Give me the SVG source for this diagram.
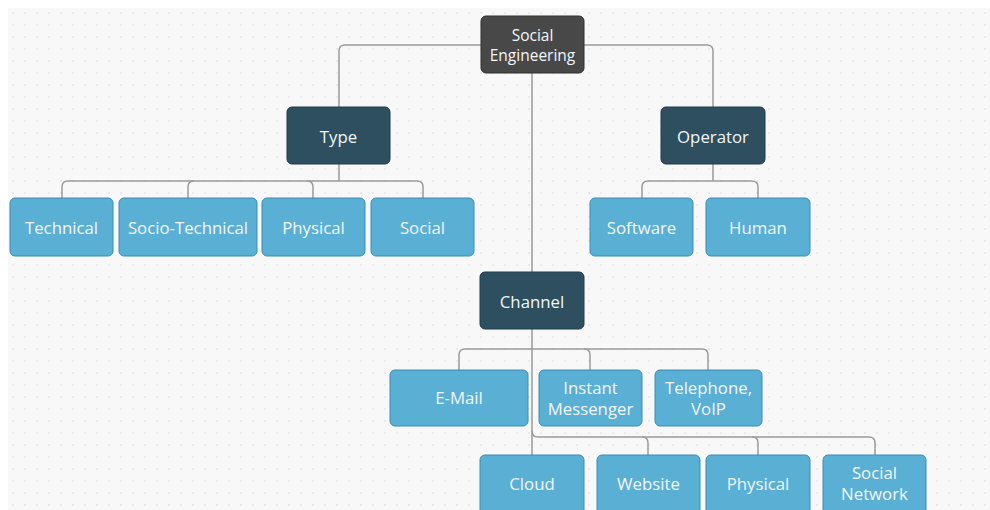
<svg xmlns="http://www.w3.org/2000/svg" width="990" height="510" viewBox="0 0 990 510">
  <defs>
    <pattern id="dots" x="8" y="8" width="12" height="12" patternUnits="userSpaceOnUse">
      <rect x="4" y="4" width="2" height="2" fill="#e9e9ec"/>
    </pattern>
    <style>
      .root { fill: #484848; stroke: #2f2f2f; stroke-width: 1; }
      .cat { fill: #2d4f60; stroke: #1f3a48; stroke-width: 1; }
      .leaf { fill: #5aafd4; stroke: #3b8db3; stroke-width: 1; }
      .lbl { font-family: "Open Sans", "Noto Sans", "DejaVu Sans", sans-serif; font-size: 16.8px; fill: #f2f7fa; text-anchor: middle; }
      .small { font-size: 15.5px; }
      .conn path { fill: none; stroke: #9a9a9a; stroke-width: 1.5; }
    </style>
  </defs>
  <rect x="0" y="0" width="990" height="510" fill="#ffffff"/>
  <rect x="8" y="8" width="982" height="502" fill="#f8f8f9"/>
  <rect x="8" y="8" width="982" height="502" fill="url(#dots)"/>

  <g id="connectors" class="conn">
    <path d="M339 107 V51 Q339 45 345 45 H707 Q713 45 713 51 V107"/>
    <path d="M532 73 V272"/>
    <path d="M532 329 V455"/>
    <path d="M339 164 V181"/>
    <path d="M62 198 V187 Q62 181 68 181 H417 Q423 181 423 187 V198"/>
    <path d="M188 198 V187 Q188 181 194 181"/>
    <path d="M313 198 V187 Q313 181 307 181"/>
    <path d="M713 164 V181"/>
    <path d="M642 198 V187 Q642 181 648 181 H752 Q758 181 758 187 V198"/>
    <path d="M459 370 V355 Q459 349 465 349 H702 Q708 349 708 355 V370"/>
    <path d="M590 370 V355 Q590 349 584 349"/>
    <path d="M532 431 Q532 437 538 437 H869 Q875 437 875 443 V455"/>
    <path d="M648 455 V443 Q648 437 642 437"/>
    <path d="M758 455 V443 Q758 437 752 437"/>
  </g>

  <g id="social-engineering">
    <rect class="root" x="481" y="16" width="103" height="57" rx="5"/>
    <text class="lbl small" x="532.5" y="41">Social</text>
    <text class="lbl small" x="532.5" y="61">Engineering</text>
  </g>
  <g id="type">
    <rect class="cat" x="287" y="107" width="103" height="57" rx="5"/>
    <text class="lbl" x="338.5" y="143">Type</text>
  </g>
  <g id="operator">
    <rect class="cat" x="661" y="107" width="104" height="57" rx="5"/>
    <text class="lbl" x="713" y="143">Operator</text>
  </g>
  <g id="channel">
    <rect class="cat" x="480" y="272" width="104" height="57" rx="5"/>
    <text class="lbl" x="532" y="308">Channel</text>
  </g>

  <g id="technical">
    <rect class="leaf" x="10" y="198" width="103" height="58" rx="5"/>
    <text class="lbl" x="61.5" y="234">Technical</text>
  </g>
  <g id="socio-technical">
    <rect class="leaf" x="119" y="198" width="138" height="58" rx="5"/>
    <text class="lbl" x="188" y="234">Socio-Technical</text>
  </g>
  <g id="physical-type">
    <rect class="leaf" x="262" y="198" width="103" height="58" rx="5"/>
    <text class="lbl" x="313.5" y="234">Physical</text>
  </g>
  <g id="social-type">
    <rect class="leaf" x="371" y="198" width="103" height="58" rx="5"/>
    <text class="lbl" x="422.5" y="234">Social</text>
  </g>
  <g id="software">
    <rect class="leaf" x="590" y="198" width="103" height="58" rx="5"/>
    <text class="lbl" x="641.5" y="234">Software</text>
  </g>
  <g id="human">
    <rect class="leaf" x="706" y="198" width="104" height="58" rx="5"/>
    <text class="lbl" x="758" y="234">Human</text>
  </g>

  <g id="email">
    <rect class="leaf" x="390" y="370" width="138" height="56" rx="5"/>
    <text class="lbl" x="459" y="404">E-Mail</text>
  </g>
  <g id="instant-messenger">
    <rect class="leaf" x="539" y="370" width="103" height="56" rx="5"/>
    <text class="lbl" x="590.5" y="394">Instant</text>
    <text class="lbl" x="590.5" y="415">Messenger</text>
  </g>
  <g id="telephone">
    <rect class="leaf" x="655" y="370" width="107" height="56" rx="5"/>
    <text class="lbl" x="708.5" y="394">Telephone,</text>
    <text class="lbl" x="708.5" y="415">VoIP</text>
  </g>

  <g id="cloud">
    <rect class="leaf" x="480" y="455" width="104" height="60" rx="5"/>
    <text class="lbl" x="532" y="490">Cloud</text>
  </g>
  <g id="website">
    <rect class="leaf" x="597" y="455" width="103" height="60" rx="5"/>
    <text class="lbl" x="648.5" y="490">Website</text>
  </g>
  <g id="physical-channel">
    <rect class="leaf" x="706" y="455" width="104" height="60" rx="5"/>
    <text class="lbl" x="758" y="490">Physical</text>
  </g>
  <g id="social-network">
    <rect class="leaf" x="823" y="455" width="103" height="60" rx="5"/>
    <text class="lbl" x="874.5" y="479">Social</text>
    <text class="lbl" x="874.5" y="500">Network</text>
  </g>
</svg>
